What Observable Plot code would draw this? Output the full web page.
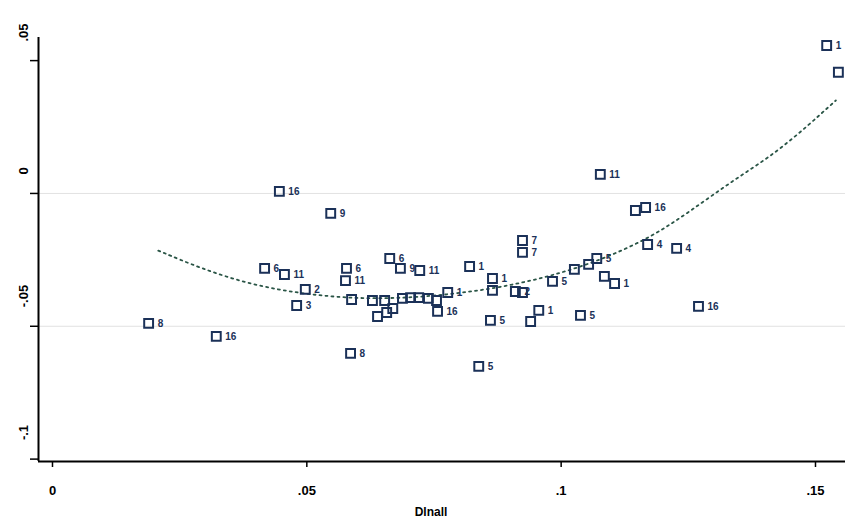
<!DOCTYPE html>
<html><head><meta charset="utf-8">
<script src="https://cdn.jsdelivr.net/npm/d3@7"></script>
<script src="https://cdn.jsdelivr.net/npm/@observablehq/plot@0.6"></script>
<style>body{margin:0;background:#fff}</style>
</head><body><div id="chart"></div>
<script>
// scatter points (Dlnall vs y) with marker labels
const xs = [.0189,.0322,.0446,.0547,.0417,.0456,.0497,.0480,.0578,.0576,.0588,.0586,.0629,.0639,.0657,.0653,.0669,.0663,.0684,.0722,.0688,.0704,.0720,.0739,.0757,.0755,.0777,.0820,.0838,.0865,.0865,.0861,.0910,.0924,.0924,.0924,.0940,.0956,.0983,.1026,.1038,.1070,.1054,.1085,.1105,.1077,.1146,.1166,.1170,.1227,.1270,.1522,.1545];
const ys = [-.0489,-.0538,.0008,-.0075,-.0282,-.0305,-.0361,-.0422,-.0282,-.0328,-.0399,-.0602,-.0403,-.0463,-.0448,-.0403,-.0433,-.0245,-.0282,-.0290,-.0395,-.0392,-.0392,-.0395,-.0444,-.0403,-.0373,-.0275,-.0651,-.0320,-.0365,-.0478,-.0369,-.0373,-.0177,-.0222,-.0482,-.0440,-.0331,-.0286,-.0459,-.0245,-.0267,-.0312,-.0339,.0072,-.0064,-.0053,-.0192,-.0207,-.0425,.0557,.0456];
const labels = ["8","16","16","9","6","11","2","3","6","11","","8","","","","","","6","9","11","","","","","16","","1","1","5","1","","5","2","","7","7","","1","5","","5","5","","","1","11","","16","4","4","16","1",""];
// fitted curve
const fitX = [.0208,.0291,.0389,.0488,.0586,.0684,.0783,.0881,.0979,.1077,.1176,.1250,.1343,.1431,.1540];
const fitY = [-.0215,-.0282,-.0343,-.0377,-.0395,-.0395,-.0380,-.0354,-.0312,-.0252,-.0166,-.0072,.0056,.0162,.0350];
const xTicks = [0,.05,.1,.15];
const xTickLabels = ["0",".05",".1",".15"];
const yTicks = [.05,0,-.05,-.1];
const yTickLabels = [".05","0","-.05","-.1"];
const gridY = [0,-.05];
const xTitle = "Dlnall";

const pts = xs.map((x,i)=>({x, y: ys[i], label: labels[i]}));
const fit = fitX.map((x,i)=>({x, y: fitY[i]}));
const navy = "#1b3158";
const xDom = [-0.00275, 0.1559];
const yDom = [-0.1009, 0.0587];

const chart = Plot.plot({
  width: 845, height: 521,
  marginLeft: 38, marginRight: 0, marginTop: 37, marginBottom: 60,
  style: {fontFamily: "Liberation Sans, Arial, sans-serif", background: "#fff"},
  x: {domain: xDom},
  y: {domain: yDom},
  marks: [
    Plot.ruleY(gridY, {stroke: "#e2e2e2", strokeWidth: 1}),
    Plot.line(fit, {x: "x", y: "y", stroke: "#2a5546", strokeWidth: 1.8, strokeDasharray: "2,4", curve: "basis"}),
    Plot.dot(pts, {x: "x", y: "y", symbol: "square", r: 5, stroke: navy, strokeWidth: 2, fill: "none"}),
    Plot.text(pts, {x: "x", y: "y", text: "label", dx: 9, textAnchor: "start", fontSize: 10, fontWeight: "bold", fill: navy}),
    Plot.axisX(xTicks, {tickSize: 6, tickPadding: 18, tickFormat: d => xTickLabels[xTicks.indexOf(d)], fontSize: 13, fontWeight: "bold", label: null, stroke: "#000", strokeWidth: 1.5}),
    Plot.axisY(yTicks, {tickSize: 8, tickFormat: () => "", label: null, stroke: "#000", strokeWidth: 1.5}),
    Plot.text(yTicks, {y: d => d, text: (d,i) => yTickLabels[i], frameAnchor: "left", dx: -15, dy: -19, rotate: -90, textAnchor: "start", fontSize: 13, fontWeight: "bold", fill: "#000"}),
    Plot.ruleY([yDom[0]], {stroke: "#000", strokeWidth: 2}),
    Plot.ruleX([xDom[0]], {stroke: "#000", strokeWidth: 2}),
    Plot.text([xTitle], {frameAnchor: "bottom", dy: 54, dx: -11, fontSize: 12, fontWeight: "bold", fill: "#000"})
  ]
});
document.getElementById("chart").appendChild(chart);
</script>
</body></html>
